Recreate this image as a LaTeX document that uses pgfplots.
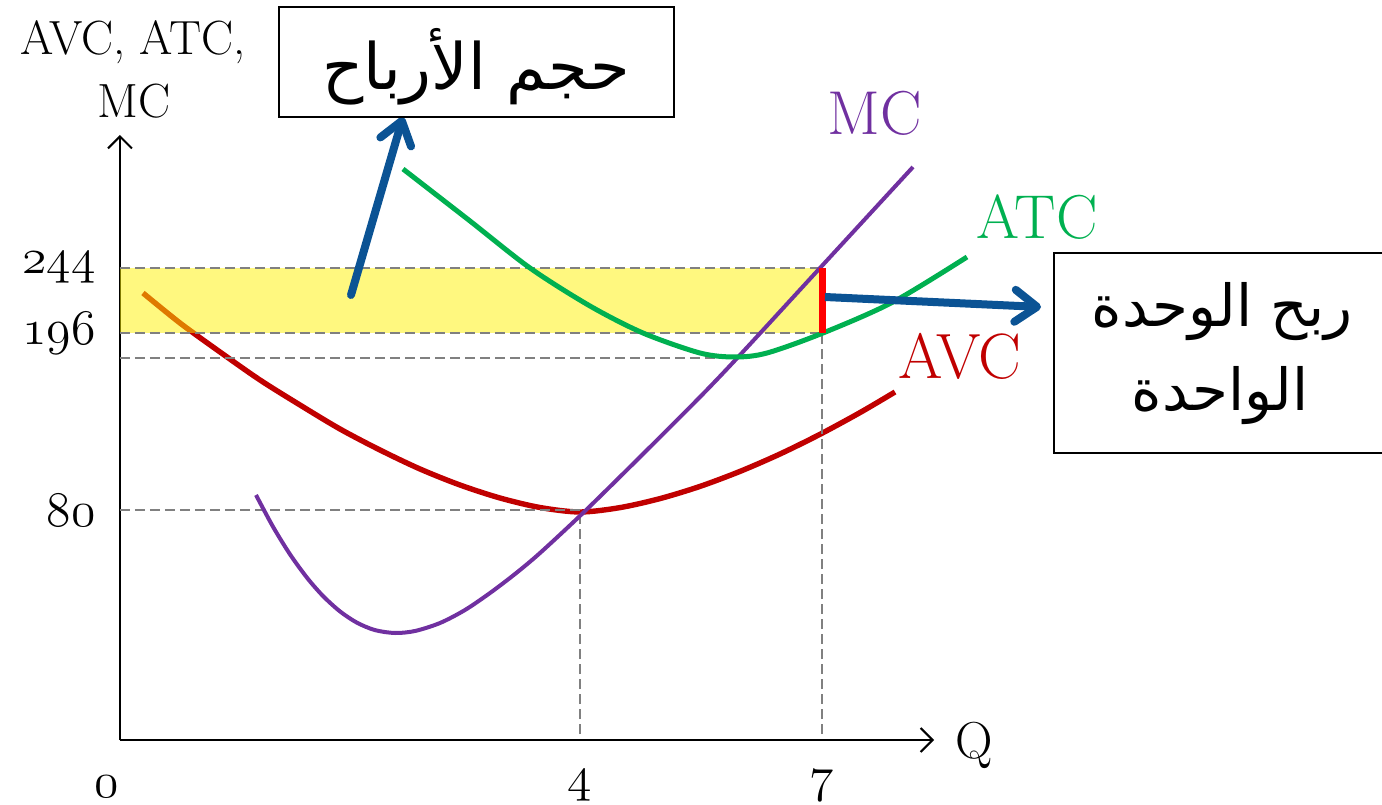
\documentclass[border=0pt]{standalone}
\usepackage{fontspec}
\usepackage{pgfplots}
\pgfplotsset{compat=1.18}
\usetikzlibrary{arrows.meta}
\TeXXeTstate=1
\newfontfamily\arabicfont[Script=Arabic]{DejaVu Sans}
% old-style figures from the math italic font
\newcommand\osf[1]{{\usefont{OML}{cmm}{m}{it}#1}}

\definecolor{mccol}{HTML}{7030A0}
\definecolor{atccol}{HTML}{00B050}
\definecolor{avccol}{HTML}{C00000}
\definecolor{arrcol}{HTML}{0B5394}
\definecolor{dashcol}{HTML}{808080}

% curves, in units of the picture (origin at the axes' corner)
\pgfplotstableread{
x y
23 447
60 417
100 388
140 360
180 335
220 311
260 290
300 271
340 255
380 242
420 232.5
460 228
500 232.4
540 241.4
580 253.6
620 268.6
660 286
700 305.7
740 327.4
775 348
}\avc
\pgfplotstableread{
x y
136 245
153 213.3
170 185.7
187 162.3
203 144
220 128.6
237 117.3
255 109.9
275 107
295 109
320 117
345 130
370 147
395 166
420 187
463 227
520 283
580 343
620 385
700 472
793 573
}\mc
\pgfplotstableread{
x y
283 571
350 519
410 472
470 434
523 407
580 387
615 383
647 387
703 407
773 438
847 483
}\atc

\tikzset{guide/.style={dashcol, line width=0.75pt, dash pattern=on 5pt off 2.5pt}}

\begin{document}
\begin{tikzpicture}
\begin{axis}[
  scale only axis, width=407pt, height=302.5pt,
  xmin=0, xmax=814, ymin=0, ymax=605,
  axis lines=left,
  axis line style={line width=1pt, -{Straight Barb[length=6pt,width=12pt]}},
  xtick={460,702}, xticklabels={\osf{4},\osf{7}},
  ytick={230,407,472}, yticklabels={\osf{80},\osf{196},\osf{244}},
  major tick length=0pt,
  ticklabel style={font=\fontsize{25}{30}\selectfont, inner sep=0pt},
  xticklabel style={anchor=north, yshift=-15pt},
  yticklabel style={anchor=east, xshift=-12pt},
  clip=false,
]
  \addplot[avccol, line width=2.7pt, smooth] table {\avc};
  \addplot[draw=none, fill=yellow, fill opacity=0.5]
    coordinates {(0,407)(702,407)(702,472)(0,472)} -- cycle;

  \addplot[guide] coordinates {(0,472)(702,472)};
  \addplot[guide] coordinates {(0,407)(702,407)};
  \addplot[guide] coordinates {(0,382)(598,382)};
  \addplot[guide] coordinates {(0,230)(460,230)};
  \addplot[guide] coordinates {(460,6)(460,228)};
  \addplot[guide] coordinates {(702,6)(702,407)};

  \addplot[mccol, line width=2pt, smooth] table {\mc};
  \addplot[atccol, line width=2.5pt, smooth] table {\atc};
  \addplot[red, line width=3.5pt] coordinates {(702,407)(702,472)};

  \draw[arrcol, line width=4pt, line cap=round,
        -{Straight Barb[length=11pt,width=16pt,round]}]
    (axis cs:231,445) -- (axis cs:283,623);
  \draw[arrcol, line width=4pt,
        -{Straight Barb[length=11pt,width=16pt,round]}]
    (axis cs:705,443) -- (axis cs:921,433);

  \node[anchor=north, inner sep=0pt, font=\fontsize{25}{30}\selectfont]
    at (axis cs:-13,-36) {\osf{0}};
  \node[anchor=base, font=\fontsize{26}{30}\selectfont] at (axis cs:854,-18) {Q};
  \node[anchor=base, font=\fontsize{24}{28}\selectfont] at (axis cs:13,685) {AVC, ATC,};
  \node[anchor=base, font=\fontsize{24}{28}\selectfont] at (axis cs:14,622) {MC};

  \node[anchor=base, mccol, font=\fontsize{31}{36}\selectfont] at (axis cs:755,605) {MC};
  \node[anchor=base, atccol, font=\fontsize{31}{36}\selectfont] at (axis cs:917,502) {ATC};
  \node[anchor=base, avccol, font=\fontsize{32}{36}\selectfont] at (axis cs:840,362) {AVC};

  \draw[line width=1pt, fill=white] (axis cs:159,623) rectangle (axis cs:554,733);
  \node[font=\arabicfont\fontsize{32}{38}\selectfont] at (axis cs:356,673)
    {\beginR حجم الأرباح\endR};

  \draw[line width=1pt, fill=white] (axis cs:934,287) rectangle (axis cs:1275,487);
  \node[font=\arabicfont\fontsize{29}{34}\selectfont] at (axis cs:1102,428)
    {\beginR ربح الوحدة\endR};
  \node[font=\arabicfont\fontsize{29}{34}\selectfont] at (axis cs:1100,344)
    {\beginR الواحدة\endR};

  \coordinate (bbsw) at (axis cs:-120,-64);
  \coordinate (bbne) at (axis cs:1262,740);
\end{axis}
\pgfresetboundingbox
\useasboundingbox (bbsw) rectangle (bbne);
\end{tikzpicture}
\end{document}
